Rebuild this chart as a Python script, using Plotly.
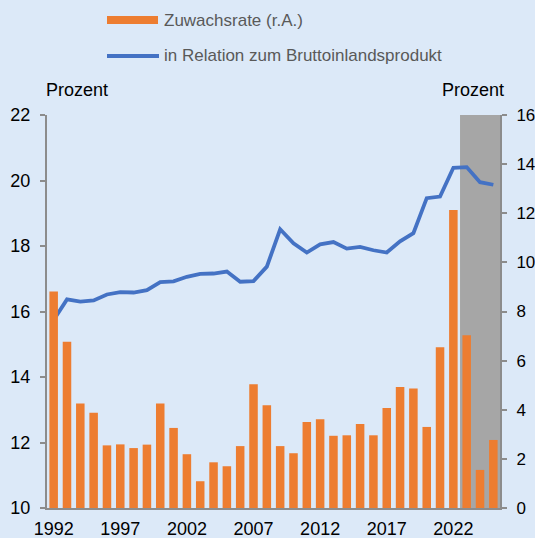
import plotly.graph_objects as go

years = list(range(1992, 2026))
growth_rate = [8.81, 6.77, 4.25, 3.88, 2.55, 2.59, 2.44, 2.58, 4.25, 3.26,
               2.19, 1.09, 1.86, 1.70, 2.52, 5.04, 4.18, 2.52, 2.23, 3.50,
               3.61, 2.94, 2.96, 3.42, 2.96, 4.07, 4.93, 4.87, 3.30, 6.54,
               12.13, 7.03, 1.55, 2.77]
gdp_ratio = [15.74, 16.37, 16.30, 16.34, 16.52, 16.59, 16.58, 16.65, 16.90, 16.92,
             17.06, 17.15, 17.16, 17.22, 16.91, 16.93, 17.37, 18.51, 18.08, 17.80,
             18.05, 18.12, 17.92, 17.97, 17.87, 17.80, 18.14, 18.39, 19.46, 19.51,
             20.39, 20.41, 19.95, 19.87]
tick_years = [1992, 1997, 2002, 2007, 2012, 2017, 2022]
forecast_start, forecast_end = 2022.5, 2025.5

ORANGE = "#ed7d31"
BLUE = "#4472c4"
BG = "#dce9f8"
AX = "#8c8c8c"
FONT = "Liberation Sans, Arial, sans-serif"

fig = go.Figure()
fig.add_trace(go.Bar(x=years, y=growth_rate, yaxis="y2", marker=dict(color=ORANGE, line=dict(width=0)),
                     name="Zuwachsrate (r.A.)", showlegend=False))
fig.add_trace(go.Scatter(x=years, y=gdp_ratio, mode="lines", line=dict(color=BLUE, width=3.8),
                         name="in Relation zum Bruttoinlandsprodukt", showlegend=False))

fig.add_shape(type="rect", xref="x", yref="paper", x0=forecast_start, x1=forecast_end, y0=0, y1=1,
              fillcolor="#a6a6a6", line=dict(width=0), layer="below")

# manual legend
fig.add_shape(type="rect", xref="paper", yref="paper", x0=(107-47)/453, x1=(158-47)/453,
              y0=(508-24)/393, y1=(508-16)/393, fillcolor=ORANGE, line=dict(width=0))
fig.add_shape(type="line", xref="paper", yref="paper", x0=(107-47)/453, x1=(159-47)/453,
              y0=(508-56)/393, y1=(508-56)/393, line=dict(color=BLUE, width=3.8))
fig.add_annotation(x=(162-47)/453, y=(508-20)/393, xref="paper", yref="paper", text="Zuwachsrate (r.A.)",
                   showarrow=False, xanchor="left", yanchor="middle", font=dict(size=17, color="#595959", family=FONT))
fig.add_annotation(x=(162-47)/453, y=(508-56)/393, xref="paper", yref="paper",
                   text="in Relation zum Bruttoinlandsprodukt",
                   showarrow=False, xanchor="left", yanchor="middle", font=dict(size=17, color="#595959", family=FONT))
fig.add_annotation(x=(44-47)/453, y=(508-90)/393, xref="paper", yref="paper", text="Prozent",
                   showarrow=False, xanchor="left", yanchor="middle", font=dict(size=18, color="black", family=FONT))
fig.add_annotation(x=(506-47)/453, y=(508-90)/393, xref="paper", yref="paper", text="Prozent",
                   showarrow=False, xanchor="right", yanchor="middle", font=dict(size=18, color="black", family=FONT))

fig.update_layout(
    width=535, height=538,
    margin=dict(l=47, r=35, t=115, b=30),
    paper_bgcolor=BG, plot_bgcolor=BG,
    bargap=0.36,
    font=dict(family=FONT, size=18, color="black"),
    xaxis=dict(range=[1991.5, 2025.5], tickvals=tick_years, showgrid=False, zeroline=False,
               showline=True, linecolor=AX, linewidth=2, ticks="", tickfont=dict(size=18),
               ticklabelstandoff=3, automargin=False),
    yaxis=dict(range=[10, 22], dtick=2, showgrid=False, zeroline=False, showline=True,
               linecolor=AX, linewidth=2, ticks="outside", ticklen=5, tickcolor=AX, tickwidth=2,
               tickfont=dict(size=18), ticklabelstandoff=6, automargin=False),
    yaxis2=dict(range=[0, 16], dtick=2, overlaying="y", side="right", showgrid=False, zeroline=False,
                showline=True, linecolor=AX, linewidth=2, ticks="outside", ticklen=5, tickcolor=AX,
                tickwidth=2, tickfont=dict(size=17), ticklabelstandoff=6, automargin=False),
)

fig.write_html("out.html", config={"displayModeBar": False},
               post_script="document.body.style.margin='0';document.body.style.overflow='hidden';")
